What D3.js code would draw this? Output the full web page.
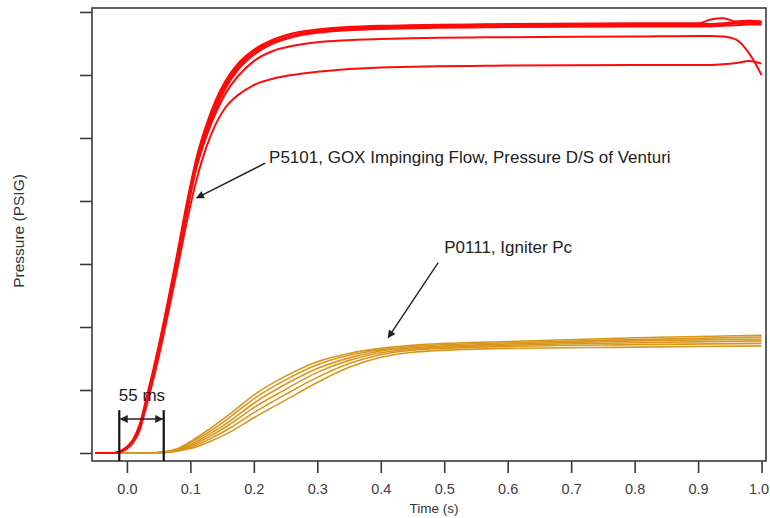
<!DOCTYPE html>
<html>
<head>
<meta charset="utf-8">
<script src="https://cdn.jsdelivr.net/npm/d3@7"></script>
<style>
  body { margin: 0; background: #fff; }
  svg { display: block; font-family: "Liberation Sans", Arial, sans-serif; }
</style>
</head>
<body>
<div id="chart"></div>
<script>
const width = 770;
const height = 518;
const plot = { left: 92, top: 8, right: 766, bottom: 461 };

// time ticks
const xTicks = [0.0, 0.1, 0.2, 0.3, 0.4, 0.5, 0.6, 0.7, 0.8, 0.9, 1.0];
const yTicks = [0, 1, 2, 3, 4, 5, 6, 7];

// P5101 GOX traces (red)
const redTime = [-0.05, -0.02, -0.01, 0, 0.01, 0.02, 0.03, 0.05, 0.065, 0.08, 0.095, 0.11, 0.125, 0.14, 0.155, 0.175, 0.2, 0.23, 0.26, 0.3, 0.4, 0.6, 0.8, 0.9, 0.92, 0.94, 0.96, 0.98, 1.0];
const red1 = [0, 0, 0.03, 0.1, 0.22, 0.45, 0.84, 1.7, 2.43, 3.2, 4.0, 4.7, 5.2, 5.6, 5.9, 6.18, 6.4, 6.56, 6.66, 6.72, 6.78, 6.81, 6.82, 6.82, 6.88, 6.9, 6.85, 6.86, 6.84];
const red2 = [0, 0, 0.03, 0.09, 0.2, 0.42, 0.8, 1.65, 2.38, 3.15, 3.95, 4.65, 5.15, 5.55, 5.86, 6.15, 6.38, 6.55, 6.65, 6.71, 6.77, 6.8, 6.81, 6.81, 6.81, 6.82, 6.84, 6.86, 6.85];
const red3 = [0, 0, 0.02, 0.08, 0.19, 0.4, 0.78, 1.62, 2.35, 3.1, 3.9, 4.6, 5.1, 5.5, 5.82, 6.12, 6.35, 6.52, 6.62, 6.69, 6.75, 6.78, 6.79, 6.79, 6.79, 6.8, 6.82, 6.83, 6.82];
const red4 = [0, 0, 0.02, 0.08, 0.18, 0.38, 0.75, 1.58, 2.3, 3.05, 3.85, 4.55, 5.05, 5.45, 5.78, 6.08, 6.32, 6.5, 6.6, 6.67, 6.73, 6.76, 6.77, 6.77, 6.77, 6.78, 6.79, 6.8, 6.8];
const red5 = [0, 0, 0.02, 0.08, 0.18, 0.38, 0.76, 1.6, 2.32, 3.08, 3.88, 4.55, 5.02, 5.4, 5.7, 5.98, 6.22, 6.38, 6.46, 6.52, 6.57, 6.6, 6.61, 6.62, 6.62, 6.61, 6.56, 6.35, 6.0];
const red6 = [0, 0, 0.02, 0.07, 0.17, 0.36, 0.72, 1.52, 2.22, 2.95, 3.7, 4.35, 4.85, 5.22, 5.48, 5.68, 5.84, 5.94, 6.0, 6.05, 6.12, 6.15, 6.16, 6.16, 6.16, 6.17, 6.19, 6.22, 6.18];

// P0111 igniter traces (gold)
const goldTime = [-0.05, 0.03, 0.06, 0.08, 0.1, 0.13, 0.16, 0.2, 0.25, 0.3, 0.35, 0.4, 0.45, 0.6, 0.8, 1.0];
const gold1 = [0, 0, 0.02, 0.07, 0.18, 0.38, 0.6, 0.92, 1.22, 1.45, 1.58, 1.66, 1.71, 1.77, 1.83, 1.87];
const gold2 = [0, 0, 0.02, 0.06, 0.16, 0.34, 0.55, 0.86, 1.16, 1.4, 1.55, 1.64, 1.69, 1.75, 1.8, 1.84];
const gold3 = [0, 0, 0.01, 0.05, 0.13, 0.3, 0.49, 0.79, 1.09, 1.34, 1.51, 1.62, 1.67, 1.73, 1.78, 1.81];
const gold4 = [0, 0, 0.01, 0.04, 0.11, 0.26, 0.44, 0.72, 1.01, 1.28, 1.47, 1.59, 1.65, 1.71, 1.75, 1.78];
const gold5 = [0, 0, 0.01, 0.04, 0.09, 0.22, 0.38, 0.64, 0.93, 1.2, 1.42, 1.56, 1.63, 1.69, 1.72, 1.74];
const gold6 = [0, 0, 0.01, 0.03, 0.07, 0.18, 0.32, 0.56, 0.84, 1.12, 1.36, 1.52, 1.6, 1.66, 1.68, 1.7];

const redSeries = [red1, red2, red3, red4, red5, red6];
const goldSeries = [gold1, gold2, gold3, gold4, gold5, gold6];

const svg = d3.select("#chart")
    .append("svg")
    .attr("width", width)
    .attr("height", height);

const xScale = d3.scaleLinear()
    .domain([-0.055, 1.007])
    .range([plot.left, plot.right]);
const yScale = d3.scaleLinear()
    .domain([-0.127, 7.063])
    .range([plot.bottom, plot.top]);

// arrow head
const defs = svg.append("defs");
defs.append("marker")
    .attr("id", "head")
    .attr("viewBox", "0 0 10 10")
    .attr("refX", 9)
    .attr("refY", 5)
    .attr("markerWidth", 12)
    .attr("markerHeight", 8)
    .attr("markerUnits", "userSpaceOnUse")
    .attr("orient", "auto-start-reverse")
    .append("path")
    .attr("d", "M0,0 L10,5 L0,10 Z")
    .attr("fill", "#222");
defs.append("clipPath")
    .attr("id", "clip")
    .append("rect")
    .attr("x", plot.left)
    .attr("y", plot.top)
    .attr("width", plot.right - plot.left)
    .attr("height", plot.bottom - plot.top);

// axes
const xAxis = svg.append("g")
    .attr("transform", `translate(0,${plot.bottom})`)
    .call(d3.axisBottom(xScale).tickValues(xTicks).tickFormat(d3.format(".1f")).tickSize(12).tickPadding(11));
const yAxis = svg.append("g")
    .attr("transform", `translate(${plot.left},0)`)
    .call(d3.axisLeft(yScale).tickValues(yTicks).tickFormat("").tickSize(12));

[xAxis, yAxis].forEach(g => {
    g.select(".domain").remove();
    g.selectAll("line").attr("stroke", "#3a3a3a").attr("stroke-width", 1.6);
    g.selectAll("text").style("font-size", "14.5px").style("fill", "#404040");
});
// keep the last label inside the page
xAxis.selectAll(".tick text").filter(d => d === 1.0).attr("dx", -3);

svg.append("rect")
    .attr("x", plot.left)
    .attr("y", plot.top)
    .attr("width", plot.right - plot.left)
    .attr("height", plot.bottom - plot.top)
    .attr("fill", "none")
    .attr("stroke", "#3a3a3a")
    .attr("stroke-width", 1.6);

svg.append("text")
    .attr("x", (plot.left + plot.right) / 2 + 5)
    .attr("y", 513)
    .attr("text-anchor", "middle")
    .style("font-size", "13.5px")
    .style("fill", "#333")
    .text("Time (s)");
svg.append("text")
    .attr("transform", "rotate(-90)")
    .attr("x", -231)
    .attr("y", 24)
    .attr("text-anchor", "middle")
    .style("font-size", "15.5px")
    .style("fill", "#333")
    .text("Pressure (PSIG)");

// traces
const lines = svg.append("g").attr("clip-path", "url(#clip)");
const lineGen = d3.line()
    .x(d => xScale(d[0]))
    .y(d => yScale(d[1]))
    .curve(d3.curveMonotoneX);

lines.selectAll(".gold")
    .data(goldSeries)
    .join("path")
    .attr("class", "gold")
    .attr("d", s => lineGen(goldTime.map((t, i) => [t, s[i]])))
    .attr("fill", "none")
    .attr("stroke", "#d8961c")
    .attr("stroke-width", 1.6);

lines.selectAll(".red")
    .data(redSeries)
    .join("path")
    .attr("class", "red")
    .attr("d", s => lineGen(redTime.map((t, i) => [t, s[i]])))
    .attr("fill", "none")
    .attr("stroke", "#ff0a0a")
    .attr("stroke-width", 2);

// annotations
function arrow(x1, y1, x2, y2, both) {
    const a = svg.append("line")
        .attr("x1", xScale(x1)).attr("y1", yScale(y1))
        .attr("x2", xScale(x2)).attr("y2", yScale(y2))
        .attr("stroke", "#222")
        .attr("stroke-width", 1.4)
        .attr("marker-end", "url(#head)");
    if (both) a.attr("marker-start", "url(#head)");
}

arrow(0.218, 4.6, 0.11, 4.05);
svg.append("text")
    .attr("x", xScale(0.224))
    .attr("y", yScale(4.6))
    .style("font-size", "17px")
    .style("fill", "#222")
    .text("P5101, GOX Impinging Flow, Pressure D/S of Venturi");

arrow(0.4905, 3.02, 0.4117, 1.83);
svg.append("text")
    .attr("x", xScale(0.5))
    .attr("y", yScale(3.17))
    .style("font-size", "17px")
    .style("fill", "#222")
    .text("P0111, Igniter Pc");

// 55 ms window
const win = [-0.012, 0.058];
win.forEach(t => {
    svg.append("line")
        .attr("x1", xScale(t)).attr("x2", xScale(t))
        .attr("y1", yScale(0.68)).attr("y2", plot.bottom)
        .attr("stroke", "#111")
        .attr("stroke-width", 2.2);
});
arrow(win[0] + 0.002, 0.54, win[1] - 0.002, 0.54, true);
svg.append("text")
    .attr("x", xScale(0.0237))
    .attr("y", yScale(0.83))
    .attr("text-anchor", "middle")
    .style("font-size", "17px")
    .style("fill", "#222")
    .text("55 ms");
</script>
</body>
</html>
